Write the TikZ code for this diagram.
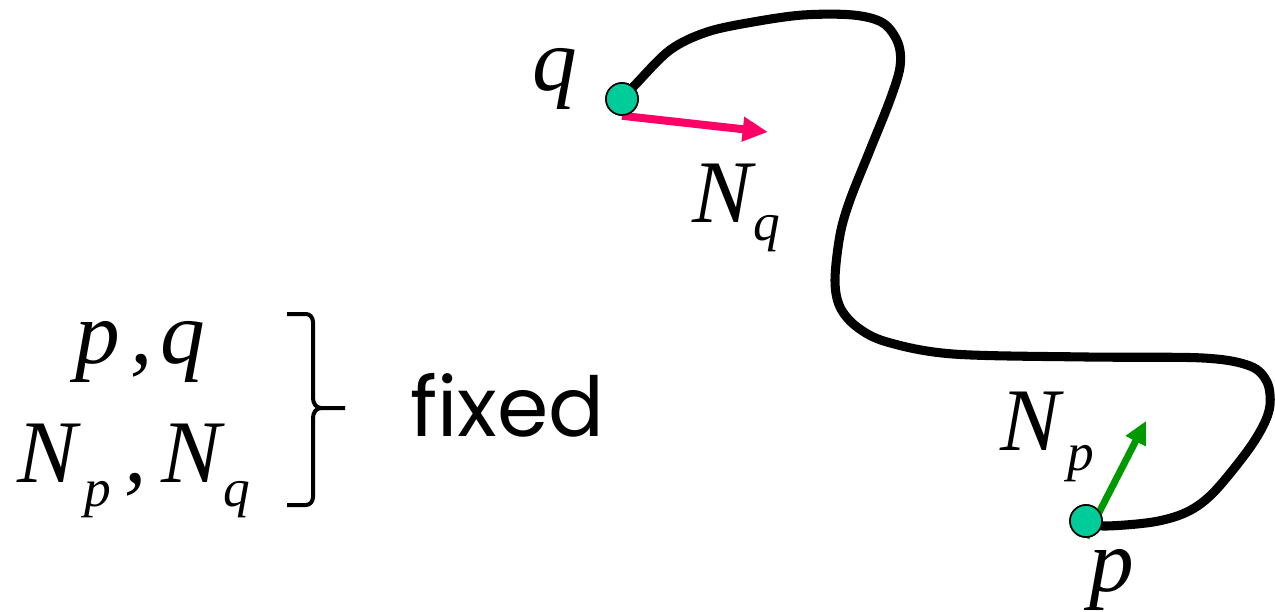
\documentclass[tikz,border=0pt]{standalone}
\usepackage{fontspec}
\setmainfont{Liberation Serif}
\newfontfamily\gothic{Poppins}
\usetikzlibrary{arrows.meta}
\definecolor{dotfill}{RGB}{0,204,153}
\definecolor{pinkarrow}{RGB}{255,0,102}
\definecolor{greenarrow}{RGB}{0,153,0}
\newcommand{\bigit}{\fontsize{67}{70}\selectfont\itshape}
\newcommand{\subit}[2]{\raisebox{-#2}{\fontsize{40}{42}\selectfont\itshape #1}}
\tikzset{
  x=0.75pt, y=-0.75pt,
  lbl/.style={inner sep=0pt, outer sep=0pt, anchor=base west},
  ptdot/.style={circle, draw=black, line width=1.2pt, fill=dotfill, minimum size=24pt, inner sep=0pt},
  curveline/.style={line width=6.8pt, line cap=round, line join=round},
  pinkvec/.style={line width=6pt, pinkarrow, -{Triangle[length=19pt, width=17.5pt]}},
  greenvec/.style={line width=5.2pt, greenarrow, -{Triangle[length=17pt, width=16pt]}},
  bracestyle/.style={line width=3pt, line join=round}
}
\begin{document}
\begin{tikzpicture}
\useasboundingbox (0,0) rectangle (1275,611);
% endpoints
\node[ptdot] (qd) at (622,99) {};
\node[ptdot] (pd) at (1086,521) {};
\coordinate (nqtip) at (768,132);
\coordinate (nptip) at (1146,421);
% curve behind dots
\draw[curveline] plot[smooth, tension=0.55] coordinates {
  (qd.center) (635,85) (670,50) (707,32) (753,22) (803,15) (853,15) (883,23)
  (898,43) (900,67) (890,100) (870,150) (850,200) (840,235) (835,280)
  (840,307) (857,327) (887,342) (953,354) (1087,357) (1203,358) (1250,366)
  (1267,382) (1270,405) (1263,426) (1246,453) (1213,493) (1187,512)
  (1153,522) (1103,526) (pd.center)};
\draw[pinkvec] (qd.south) -- (nqtip);
\draw[greenvec] (pd.south) -- (nptip);
% dots on top
\node[ptdot] at (qd) {};
\node[ptdot] at (pd) {};
% labels
\node[lbl] (lq) at (532,90) {\bigit q};
\node[lbl] (lNq) at (692,222) {\bigit N\kern1.5pt\subit{q}{14pt}};
\node[lbl] (lNp) at (1000,450) {\bigit N\kern6pt\subit{p}{15.5pt}};
\node[lbl] (lp) at (1089,591) {\bigit p};
% left expressions
\node[lbl] (lpq) at (75,363) {\bigit p\kern8pt,\kern6pt q};
\node[lbl] (lNpNq) at (17,482) {\bigit N\kern6pt\subit{p}{18pt}\kern10pt,\kern11pt N\kern1.5pt\subit{q}{18pt}};
% brace
\coordinate (bt) at (287,314);
\coordinate (bb) at (287,505);
\coordinate (btip) at (345,408);
\draw[bracestyle] (bt) -- (306,314) to[out=0,in=90] (313,322) -- (313,398)
  to[out=-90,in=180] (321,408) -- (btip);
\draw[bracestyle] (bb) -- (306,505) to[out=0,in=-90] (313,497) -- (313,418)
  to[out=90,in=180] (321,408);
\node[lbl] (fx) at (410,436) {\gothic\fontsize{62}{66}\selectfont fixed};
\end{tikzpicture}
\end{document}
